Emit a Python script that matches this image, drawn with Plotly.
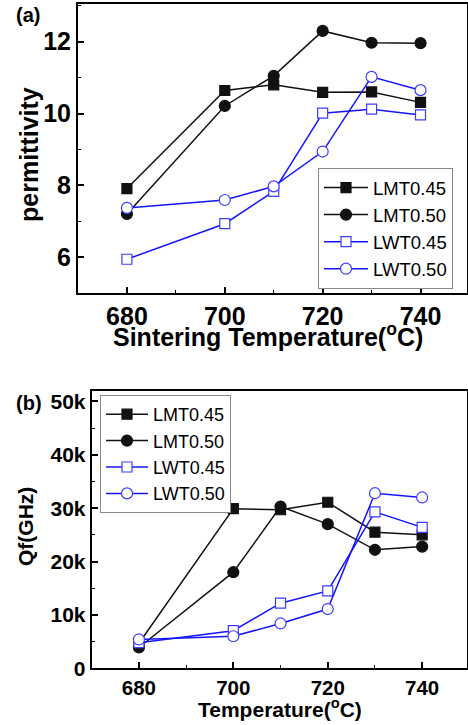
import plotly.graph_objects as go

temps = [680, 700, 710, 720, 730, 740]
series_names = ["LMT0.45", "LMT0.50", "LWT0.45", "LWT0.50"]

perm_lmt045 = [7.91, 10.64, 10.80, 10.59, 10.60, 10.31]
perm_lmt050 = [7.20, 10.21, 11.05, 12.30, 11.97, 11.96]
perm_lwt045 = [5.94, 6.93, 7.83, 10.01, 10.12, 9.96]
perm_lwt050 = [7.37, 7.59, 7.97, 8.94, 11.02, 10.65]

qf_lmt045 = [4700, 29900, 29700, 31100, 25500, 25000]
qf_lmt050 = [3900, 18000, 30300, 27000, 22200, 22800]
qf_lwt045 = [4800, 7050, 12200, 14500, 29300, 26400]
qf_lwt050 = [5400, 6000, 8400, 11100, 32800, 32000]

x_ticks = [680, 700, 720, 740]
perm_ticks = [6, 8, 10, 12]
qf_ticks = [0, 10000, 20000, 30000, 40000, 50000]
qf_ticklabels = ["0", "10k", "20k", "30k", "40k", "50k"]

W, H = 468, 725
BLACK = "#111111"
BLUE = "#1414ff"
BLUE_MK = "#3c3cff"
FONT = "Liberation Sans"

styles = [
    dict(color=BLACK, edge=BLACK, symbol="square", fill=BLACK),
    dict(color=BLACK, edge=BLACK, symbol="circle", fill=BLACK),
    dict(color=BLUE, edge=BLUE_MK, symbol="square", fill="white"),
    dict(color=BLUE, edge=BLUE_MK, symbol="circle", fill="white"),
]

fig = go.Figure()

perm_data = [perm_lmt045, perm_lmt050, perm_lwt045, perm_lwt050]
qf_data = [qf_lmt045, qf_lmt050, qf_lwt045, qf_lwt050]

def add_series(data, xa, ya, leg):
    for name, ys, st in zip(series_names, data, styles):
        fig.add_trace(go.Scatter(
            x=temps, y=ys, name=name, mode="lines+markers",
            xaxis=xa, yaxis=ya, legend=leg,
            line=dict(color=st["color"], width=1.5),
            marker=dict(symbol=st["symbol"], size=10 if st["symbol"] == "square" else 11,
                        color=st["fill"], line=dict(color=st["edge"], width=1.2)),
        ))

add_series(perm_data, "x", "y", "legend")
add_series(qf_data, "x2", "y2", "legend2")

def px_x(p):
    return p / W

def px_y(p):
    return 1 - p / H

axis_common = dict(
    showline=True, linecolor="#000000", linewidth=2, mirror=True,
    ticks="inside", ticklen=6, tickwidth=1.5, tickcolor="#000000",
    showgrid=False, zeroline=False,
)
minor_common = dict(ticks="inside", ticklen=3, tickwidth=1.2, tickcolor="#000000")

fig.update_layout(
    width=W, height=H,
    paper_bgcolor="white", plot_bgcolor="white",
    margin=dict(l=0, r=0, t=0, b=0, autoexpand=False),
    xaxis=dict(domain=[px_x(78), px_x(467)], range=[670, 749.5], anchor="y",
               tickvals=x_ticks, tickfont=dict(family=FONT, size=25, weight="bold", color="#000000"),
               minor=dict(dtick=10, tick0=670, **minor_common),
               **axis_common),
    yaxis=dict(domain=[px_y(293), px_y(4)], range=[5, 13.05], anchor="x",
               tickvals=perm_ticks, tickfont=dict(family=FONT, size=25, weight="bold", color="#000000"),
               minor=dict(dtick=1, tick0=5, **minor_common),
               **axis_common),
    xaxis2=dict(domain=[px_x(91.7), px_x(467)], range=[670, 749.5], anchor="y2",
                tickvals=x_ticks, tickfont=dict(family=FONT, size=20.5, weight="bold", color="#000000"),
                minor=dict(dtick=10, tick0=670, **minor_common),
                **axis_common),
    yaxis2=dict(domain=[px_y(668.3), px_y(390.7)], range=[0, 52000], anchor="x2",
                tickvals=qf_ticks, ticktext=qf_ticklabels,
                tickfont=dict(family=FONT, size=21, weight="bold", color="#000000"),
                minor=dict(dtick=5000, tick0=0, **minor_common),
                **axis_common),
    legend=dict(x=px_x(318), y=px_y(168), xanchor="left", yanchor="top",
                bgcolor="white", bordercolor="#888888", borderwidth=1, itemwidth=44,
                font=dict(family=FONT, size=18.5, color="#000000"), tracegroupgap=0),
    legend2=dict(x=px_x(100), y=px_y(395), xanchor="left", yanchor="top",
                 bgcolor="white", bordercolor="#888888", borderwidth=1, itemwidth=42,
                 font=dict(family=FONT, size=18, color="#000000"), tracegroupgap=0),
    showlegend=True,
)

ann_font = lambda s: dict(family=FONT, size=s, color="#000000", weight="bold")
annotations = [
    dict(text="Sintering Temperature(<sup>o</sup>C)", x=px_x(267.5), y=px_y(335), font=ann_font(25)),
    dict(text="permittivity", x=px_x(29), y=px_y(155), textangle=-90, font=ann_font(25)),
    dict(text="Temperature(<sup>o</sup>C)", x=px_x(280), y=px_y(708), font=ann_font(21)),
    dict(text="Qf(GHz)", x=px_x(25), y=px_y(527), textangle=-90, font=ann_font(21)),
    dict(text="(a)", x=px_x(27.5), y=px_y(15), font=ann_font(20)),
    dict(text="(b)", x=px_x(28.5), y=px_y(403), font=ann_font(20)),
]
for a in annotations:
    a.update(xref="paper", yref="paper", showarrow=False, xanchor="center", yanchor="middle")
fig.update_layout(annotations=annotations)

fig.write_html("out.html", config={"displayModeBar": False},
               post_script="document.body.style.margin='0';")
